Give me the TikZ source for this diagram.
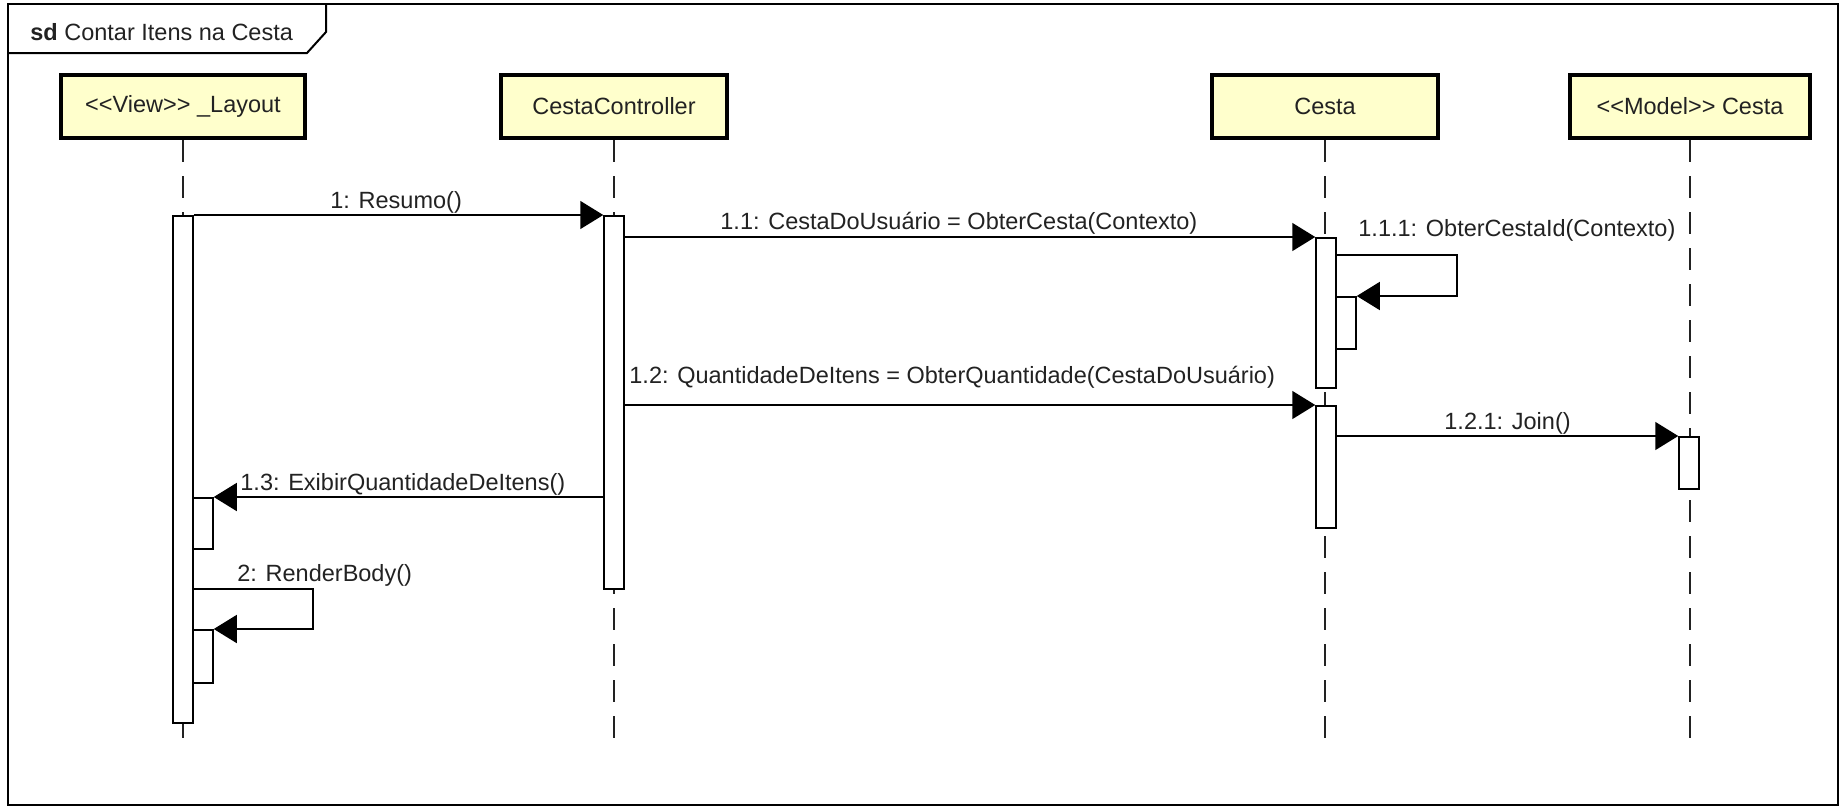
\documentclass[tikz,border=0pt]{standalone}
\usepackage{fontspec}
\setmainfont{Liberation Sans}[Ligatures=TeXOff]
\usetikzlibrary{arrows.meta}

\definecolor{headfill}{RGB}{255,255,204}
\definecolor{inkgray}{RGB}{34,34,34}
\newcommand{\umlfont}{\fontsize{11.75pt}{14pt}\selectfont}

\tikzset{
  head/.style={draw=black, line width=2pt, fill=headfill, minimum height=31.5pt,
    inner sep=0pt, text=inkgray, font=\umlfont},
  lifeline/.style={draw=inkgray, line width=1pt, dash pattern=on 11pt off 7pt},
  bar/.style={draw=black, line width=0.75pt, fill=white, minimum width=10pt,
    inner sep=0pt, anchor=north},
  msg/.style={draw=black, line width=0.75pt, -{Triangle[length=11.5pt, width=14pt]}},
  lbl/.style={anchor=base west, inner sep=0pt, text=inkgray, font=\umlfont}
}

\begin{document}
\begin{tikzpicture}[x=0.5pt, y=-0.5pt]
  \useasboundingbox (0,0) rectangle (1845,809);

  % Frame and title tab
  \draw[line width=1pt] (8,4) rectangle (1838,805);
  \draw[line width=1pt] (8,53) -- (307,53) -- (326,32) -- (326,4);
  \node[lbl] (title) at (30,40) {\textbf{sd} Contar Itens na Cesta};

  % Lifeline heads
  \node[head, minimum width=122pt] (hL) at (183,106.5) {<<View>> \_Layout};
  \node[head, minimum width=113pt] (hC) at (614,106.5) {CestaController};
  \node[head, minimum width=113pt] (hK) at (1325,106.5) {Cesta};
  \node[head, minimum width=120pt] (hM) at (1690,106.5) {<<Model>> Cesta};

  % Lifelines
  \draw[lifeline] (hL.south) -- (hL.south |- 0,744);
  \draw[lifeline] (hC.south) -- (hC.south |- 0,744);
  \draw[lifeline] (hK.south) -- (hK.south |- 0,744);
  \draw[lifeline] (hM.south) -- (hM.south |- 0,744);

  % Activation bars
  \node[bar, minimum height=253.5pt] (aL) at (183,215) {};
  \node[bar, minimum height=25.5pt] (aL13) at (203,497) {};
  \node[bar, minimum height=26.5pt] (aL2) at (203,629) {};
  \node[bar, minimum height=186.5pt] (aC) at (614,215) {};
  \node[bar, minimum height=75pt] (aK1) at (1326,237) {};
  \node[bar, minimum height=26pt] (aK11) at (1346,296) {};
  \node[bar, minimum height=61pt] (aK2) at (1326,405) {};
  \node[bar, minimum height=26pt] (aM) at (1689,436) {};

  % Messages
  \draw[msg] (aL.north east) -- (aC.north west);
  \draw[msg] (aC.east |- aK1.north west) -- (aK1.north west);
  \draw[msg] (aK1.east |- 0,255) -- (1457,255) |- (aK11.north east);
  \draw[msg] (aC.east |- aK2.north west) -- (aK2.north west);
  \draw[msg] (aK2.east |- aM.north west) -- (aM.north west);
  \draw[msg] (aC.west |- aL13.north east) -- (aL13.north east);
  \draw[msg] (aL.east |- 0,589) -- (313,589) |- (aL2.north east);

  % Message labels
  \node[lbl] (m1) at (330,208) {1: Resumo()};
  \node[lbl] (m11) at (720,229) {1.1: CestaDoUsuário = ObterCesta(Contexto)};
  \node[lbl] (m111) at (1358,236) {1.1.1: ObterCestaId(Contexto)};
  \node[lbl] (m12) at (629,383) {1.2: QuantidadeDeItens = ObterQuantidade(CestaDoUsuário)};
  \node[lbl] (m121) at (1444,429) {1.2.1: Join()};
  \node[lbl] (m13) at (240,490) {1.3: ExibirQuantidadeDeItens()};
  \node[lbl] (m2) at (237,581) {2: RenderBody()};
\end{tikzpicture}
\end{document}
